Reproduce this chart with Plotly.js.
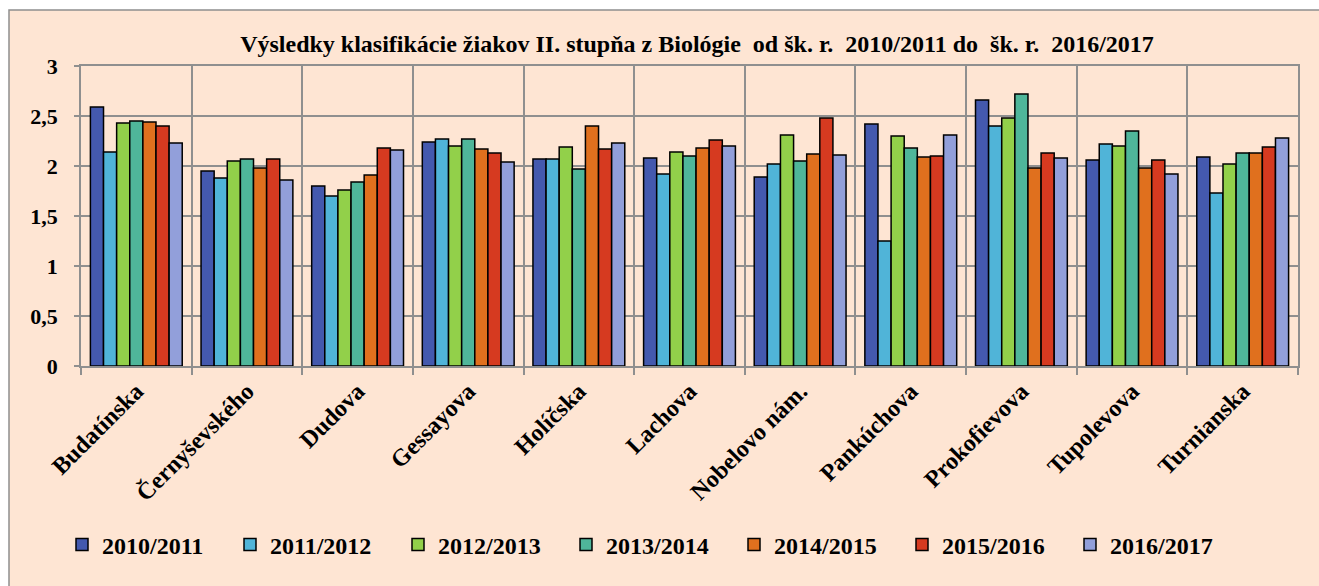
<!DOCTYPE html>
<html>
<head>
<meta charset="utf-8">
<script src="https://cdn.plot.ly/plotly-3.0.1.min.js"></script>
<style>
  html, body { margin: 0; padding: 0; background: #ffffff; }
  #chart { width: 1319px; height: 586px; }
</style>
</head>
<body>
<div id="chart"></div>
<script>
const categories = ["Budatínska", "Černyševského", "Dudova", "Gessayova", "Holíčska", "Lachova",
  "Nobelovo nám.", "Pankúchova", "Prokofievova", "Tupolevova", "Turnianska"];

const seriesNames = ["2010/2011", "2011/2012", "2012/2013", "2013/2014", "2014/2015", "2015/2016", "2016/2017"];

const y2010 = [2.59, 1.95, 1.80, 2.24, 2.07, 2.08, 1.89, 2.42, 2.66, 2.06, 2.09];
const y2011 = [2.14, 1.88, 1.70, 2.27, 2.07, 1.92, 2.02, 1.25, 2.40, 2.22, 1.73];
const y2012 = [2.43, 2.05, 1.76, 2.20, 2.19, 2.14, 2.31, 2.30, 2.48, 2.20, 2.02];
const y2013 = [2.45, 2.07, 1.84, 2.27, 1.97, 2.10, 2.05, 2.18, 2.72, 2.35, 2.13];
const y2014 = [2.44, 1.98, 1.91, 2.17, 2.40, 2.18, 2.12, 2.09, 1.98, 1.98, 2.13];
const y2015 = [2.40, 2.07, 2.18, 2.13, 2.17, 2.26, 2.48, 2.10, 2.13, 2.06, 2.19];
const y2016 = [2.23, 1.86, 2.16, 2.04, 2.23, 2.20, 2.11, 2.31, 2.08, 1.92, 2.28];

const seriesValues = [y2010, y2011, y2012, y2013, y2014, y2015, y2016];
const colors = ["#4459AE", "#50B4D8", "#92D04A", "#4FB69A", "#E0701E", "#D63A20", "#929FDA"];

const yTicks = [0, 0.5, 1, 1.5, 2, 2.5, 3];
const yTickText = ["0", "0,5", "1", "1,5", "2", "2,5", "3"];

const titleText = "Výsledky klasifikácie žiakov II. stupňa z Biológie \u00a0od šk. r. \u00a02010/2011 do \u00a0šk. r. \u00a02016/2017";

const FONT = "Liberation Serif";

const traces = seriesNames.map((name, i) => ({
  type: "bar",
  name: name,
  x: categories,
  y: seriesValues[i],
  marker: { color: colors[i], line: { color: "#000000", width: 1.5 } },
  hoverinfo: "x+y+name"
}));

const W = 1319, H = 586;
const mL = 81, mR = 21, mT = 66, mB = 220;
const pw = W - mL - mR, ph = H - mT - mB;
function px(x) { return (x - mL) / pw; }
function py(y) { return (H - mB - y) / ph; }

const layout = {
  width: W,
  height: H,
  margin: { l: mL, r: mR, t: mT, b: mB, pad: 0 },
  paper_bgcolor: "#ffffff",
  plot_bgcolor: "#ffffff",
  font: { family: FONT, size: 18, color: "#000000", weight: "bold" },
  title: {
    text: "<b>" + titleText + "</b>",
    font: { family: FONT, size: 24, color: "#000000", weight: "bold" },
    xref: "container", x: 697 / W, xanchor: "center",
    yref: "container", y: 1 - 44 / H, yanchor: "middle"
  },
  barmode: "group",
  bargap: 0.17,
  bargroupgap: 0,
  showlegend: true,
  legend: {
    orientation: "h",
    x: px(62), xanchor: "left",
    y: py(545), yanchor: "middle",
    font: { family: FONT, size: 24, color: "#000000", weight: "bold" },
    bgcolor: "rgba(0,0,0,0)",
    entrywidth: 123,
    entrywidthmode: "pixels",
    traceorder: "normal"
  },
  xaxis: {
    type: "category",
    tickson: "boundaries",
    ticks: "outside",
    ticklen: 7,
    tickwidth: 1.5,
    tickcolor: "#8f8f8f",
    showgrid: true,
    gridcolor: "#8f8f8f",
    gridwidth: 1.5,
    showline: true,
    linecolor: "#8f8f8f",
    linewidth: 1.5,
    mirror: true,
    tickangle: -45,
    tickfont: { family: FONT, size: 24, color: "#000000", weight: "bold" },
    automargin: false,
    fixedrange: true
  },
  yaxis: {
    range: [0, 3],
    tickvals: yTicks,
    ticktext: yTickText,
    ticks: "outside",
    ticklen: 5,
    tickwidth: 1.5,
    tickcolor: "#8f8f8f",
    ticklabelstandoff: 12,
    showgrid: true,
    gridcolor: "#8f8f8f",
    gridwidth: 1.5,
    showline: true,
    linecolor: "#8f8f8f",
    linewidth: 1.5,
    mirror: true,
    zeroline: false,
    tickfont: { family: FONT, size: 22, color: "#000000", weight: "bold" },
    automargin: false,
    fixedrange: true
  },
  shapes: [{
    type: "rect",
    xref: "paper", yref: "paper",
    x0: px(9), x1: px(1330),
    y0: py(600), y1: py(10),
    fillcolor: "#FEE5D3",
    line: { color: "#8f8f8f", width: 1.5 },
    layer: "below"
  }]
};

Plotly.newPlot("chart", traces, layout, { displayModeBar: false, responsive: false });
</script>
</body>
</html>
